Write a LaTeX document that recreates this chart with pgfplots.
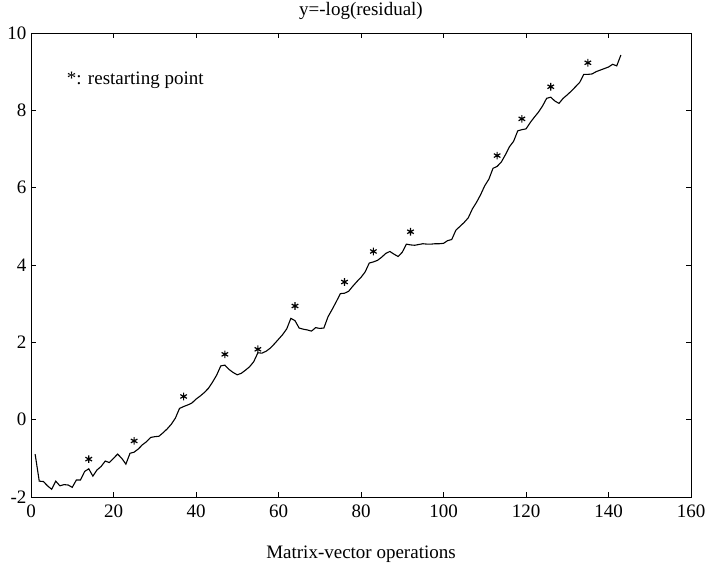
\documentclass[border=0pt]{standalone}
\usepackage{fontspec}
\setmainfont{Liberation Serif}
\usepackage{pgfplots}
\usepackage{pgfplotstable}
\pgfplotsset{compat=1.18}
\pgfplotstableread{
x y
1 -0.89
2 -1.59
3 -1.60
4 -1.71
5 -1.80
6 -1.59
7 -1.71
8 -1.68
9 -1.69
10 -1.75
11 -1.56
12 -1.56
13 -1.34
14 -1.27
15 -1.46
16 -1.30
17 -1.21
18 -1.07
19 -1.11
20 -1.00
21 -0.89
22 -1.00
23 -1.15
24 -0.87
25 -0.84
26 -0.76
27 -0.65
28 -0.57
29 -0.46
30 -0.44
31 -0.43
32 -0.34
33 -0.24
34 -0.12
35 0.04
36 0.29
37 0.34
38 0.38
39 0.43
40 0.53
41 0.61
42 0.70
43 0.81
44 0.97
45 1.15
46 1.39
47 1.41
48 1.30
49 1.22
50 1.16
51 1.20
52 1.28
53 1.37
54 1.50
55 1.73
56 1.72
57 1.77
58 1.85
59 1.96
60 2.08
61 2.20
62 2.35
63 2.62
64 2.56
65 2.37
66 2.34
67 2.32
68 2.29
69 2.38
70 2.36
71 2.37
72 2.66
73 2.85
74 3.05
75 3.26
76 3.27
77 3.32
78 3.45
79 3.57
80 3.68
81 3.82
82 4.05
83 4.08
84 4.12
85 4.20
86 4.30
87 4.35
88 4.28
89 4.22
90 4.33
91 4.54
92 4.52
93 4.51
94 4.53
95 4.55
96 4.54
97 4.54
98 4.55
99 4.55
100 4.56
101 4.63
102 4.66
103 4.90
104 5.00
105 5.10
106 5.22
107 5.45
108 5.62
109 5.82
110 6.05
111 6.22
112 6.50
113 6.55
114 6.66
115 6.85
116 7.06
117 7.20
118 7.47
119 7.50
120 7.52
121 7.68
122 7.82
123 7.95
124 8.11
125 8.31
126 8.34
127 8.24
128 8.18
129 8.31
130 8.40
131 8.50
132 8.61
133 8.72
134 8.93
135 8.93
136 8.94
137 9.00
138 9.04
139 9.08
140 9.12
141 9.19
142 9.15
143 9.43
}\residual
\pgfplotstableread{
x y
14 -1.02
25 -0.55
37 0.60
47 1.69
55 1.82
64 2.94
76 3.56
83 4.35
92 4.86
113 6.83
119 7.78
126 8.61
135 9.23
}\restarts
\begin{document}
\fontsize{19bp}{22bp}\selectfont
\begin{tikzpicture}
\begin{axis}[
  scale only axis, width=660bp, height=464bp,
  xmin=0, xmax=160, ymin=-2, ymax=10,
  xtick={0,20,...,160}, ytick={-2,0,...,10},
  tick align=inside, major tick length=5bp,
  axis line style={line width=0.9bp},
  tick style={line width=0.9bp, black},
  /pgf/number format/assume math mode=true,
  ticklabel style={font=\fontsize{19bp}{22bp}\selectfont},
  xticklabel style={anchor=base, yshift=-20bp},
  yticklabel style={xshift=2bp},
  title={y=-log(residual)},
  title style={at={(axis description cs:0.5,1)}, anchor=base, yshift=11.5bp, font=\fontsize{19bp}{22bp}\selectfont},
  xlabel={Matrix-vector operations},
  xlabel style={at={(axis description cs:0.5,0)}, anchor=base, yshift=-61bp, font=\fontsize{19bp}{22bp}\selectfont},
  clip=false,
]
\addplot[black, line width=1.1bp, mark=none] table[x=x,y=y] {\residual};
\addplot[black, only marks, mark=asterisk, mark size=3.8bp, mark options={line width=1.2bp}] table[x=x,y=y] {\restarts};
\node[anchor=base west, inner sep=0pt, font=\fontsize{19bp}{22bp}\selectfont] at (axis cs:8.65,8.66) {*: restarting point};
\end{axis}
\pgfresetboundingbox
\path[use as bounding box] ([shift={(-31bp,-67bp)}]current axis.south west) rectangle ++(709bp,564bp);
\end{tikzpicture}
\end{document}
